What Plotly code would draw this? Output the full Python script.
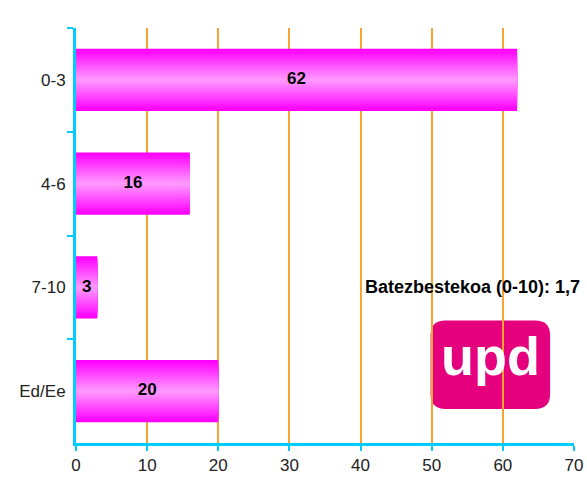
import plotly.graph_objects as go

categories = ['0-3', '4-6', '7-10', 'Ed/Ee']
values = [62, 16, 3, 20]
x_ticks = [0, 10, 20, 30, 40, 50, 60, 70]
mean_label = 'Batezbestekoa (0-10): 1,7'

fig = go.Figure()

# fake a vertical gradient: stack narrower, lighter bars on top of each other
edge = (255, 0, 255)
centre = (255, 150, 255)
n_layers = 14
full_width = 0.6
for i in range(n_layers):
    t = i / (n_layers - 1)
    col = tuple(round(edge[k] + (centre[k] - edge[k]) * t) for k in range(3))
    w = full_width * (1 - t * 0.92)
    fig.add_trace(go.Bar(
        x=values,
        y=categories,
        orientation='h',
        width=w,
        marker=dict(color='rgb(%d,%d,%d)' % col, line=dict(width=0)),
        hoverinfo='skip',
        showlegend=False,
    ))

# value labels in the middle of each bar
fig.add_trace(go.Scatter(
    x=[v / 2 for v in values],
    y=categories,
    mode='text',
    text=[str(v) for v in values],
    textposition='middle center',
    textfont=dict(family='Liberation Sans, Arial', size=17, color='black', weight='bold'),
    cliponaxis=False,
    hoverinfo='skip',
    showlegend=False,
))

fig.update_layout(
    width=587, height=479,
    margin=dict(l=76, r=13, t=28, b=36, autoexpand=False),
    paper_bgcolor='white',
    plot_bgcolor='white',
    barmode='overlay',
    font=dict(family='Liberation Sans, Arial', size=17, color='#222222'),
)

fig.update_xaxes(
    range=[0, 70],
    tickvals=x_ticks,
    showgrid=True, gridcolor='#F7A432', gridwidth=1.5,
    zeroline=False,
    showline=True, linecolor='#00CCFF', linewidth=3,
    ticks='outside', ticklen=5, tickwidth=2, tickcolor='#00CCFF',
    tickfont=dict(size=17, color='#222222'),
    automargin=False,
)
fig.update_yaxes(
    type='category',
    categoryorder='array', categoryarray=categories,
    range=[3.5, -0.5],
    showgrid=False, zeroline=False,
    showline=True, linecolor='#00CCFF', linewidth=3,
    ticks='outside', tickson='boundaries', ticklen=6, tickwidth=2, tickcolor='#00CCFF',
    tickfont=dict(size=17, color='#222222'),
    ticklabelstandoff=4,
    automargin=False,
)

# last gridline looks faded in the original
fig.add_shape(type='line', xref='x', yref='paper', x0=70, x1=70, y0=0, y1=1,
              line=dict(color='rgba(255,255,255,0.7)', width=2), layer='above')

fig.add_annotation(
    text='<b>' + mean_label + '</b>',
    xref='paper', yref='paper', x=1.016, y=0.376,
    xanchor='right', yanchor='middle', showarrow=False,
    font=dict(size=18, color='black'),
)

# upd logo: white backing (hides gridlines) + rounded magenta square + white text
fig.add_shape(type='rect', xref='paper', yref='paper',
              x0=0.69, x1=0.962, y0=0.08, y1=0.30,
              fillcolor='white', line=dict(width=0), layer='between')
x0, x1, y0, y1, r = 0.712, 0.952, 0.082, 0.295, 0.03
ry = r * 498 / 415
path = (f'M {x0+r},{y1} L {x1-r},{y1} Q {x1},{y1} {x1},{y1-ry} '
        f'L {x1},{y0+ry} Q {x1},{y0} {x1-r},{y0} L {x0+r},{y0} '
        f'Q {x0},{y0} {x0},{y0+ry} L {x0},{y1-ry} Q {x0},{y1} {x0+r},{y1} Z')
fig.add_shape(type='path', path=path, xref='paper', yref='paper',
              fillcolor='#E5007E', line=dict(width=0), layer='between')
fig.add_annotation(
    text='<b>upd</b>', xref='paper', yref='paper',
    x=(x0 + x1) / 2, y=(y0 + y1) / 2 + 0.02,
    xanchor='center', yanchor='middle',
    showarrow=False, font=dict(family='Liberation Sans, Arial', size=54, color='white'),
)

# drop the default body margin so the figure fills the window exactly
fig.write_html('out.html', config={'displayModeBar': False},
               post_script="document.body.style.margin='0';")
